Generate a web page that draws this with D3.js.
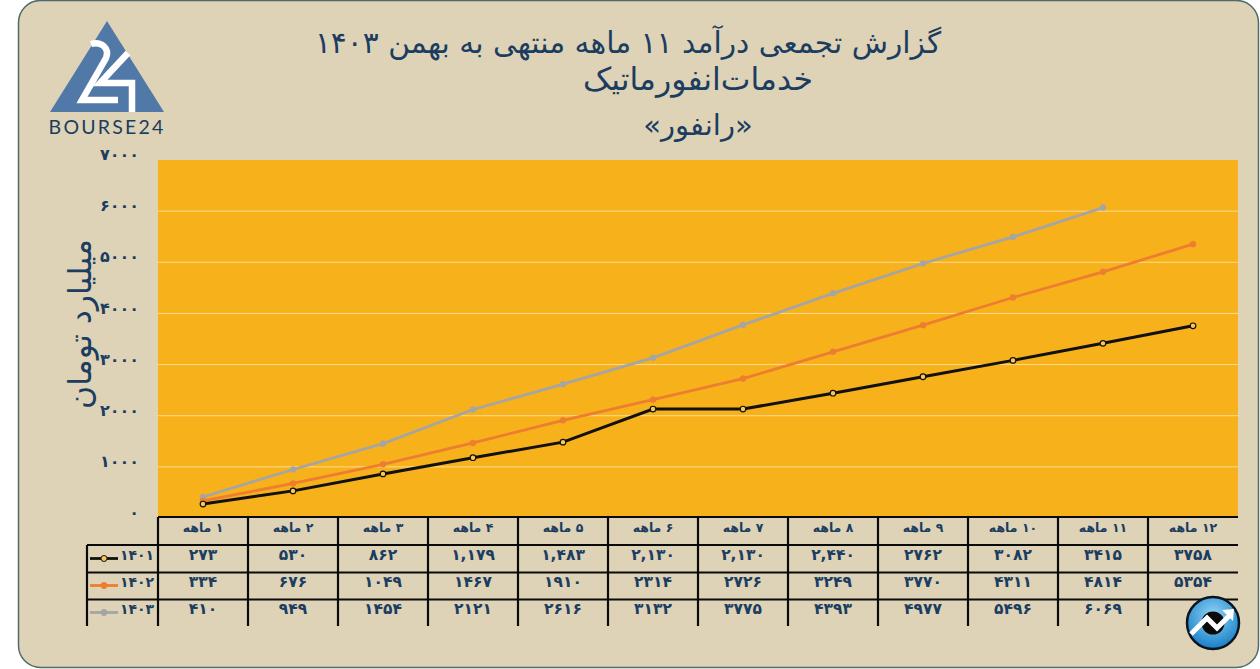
<!DOCTYPE html>
<html lang="fa">
  <head>
    <meta charset="utf-8">
    <title>رانفور</title>
    <style>
      body { margin: 0; background: #fff; }
      svg { display: block; }
      text { font-family: "DejaVu Sans", sans-serif; fill: #1b3d5f; }
      .cell { font-weight: bold; font-size: 15.5px; text-anchor: middle; dominant-baseline: middle; }
      .year { font-weight: bold; font-size: 14px; text-anchor: middle; dominant-baseline: middle; }
      .head { font-weight: bold; font-size: 12.5px; text-anchor: middle; dominant-baseline: middle; direction: rtl; }
      .title { text-anchor: middle; direction: rtl; }
    </style>
  </head>
  <body>
    <svg id="container" width="1260" height="669"></svg>
    <script src="https://d3js.org/d3.v7.min.js"></script>
    <script>
      const months = ["۱ ماهه","۲ ماهه","۳ ماهه","۴ ماهه","۵ ماهه","۶ ماهه","۷ ماهه","۸ ماهه","۹ ماهه","۱۰ ماهه","۱۱ ماهه","۱۲ ماهه"]
      const years = ["۱۴۰۱","۱۴۰۲","۱۴۰۳"]
      const values1401 = [273,530,862,1179,1483,2130,2130,2440,2762,3082,3415,3758]
      const values1402 = [334,676,1049,1467,1910,2314,2726,3249,3770,4311,4814,5354]
      const values1403 = [410,949,1454,2121,2616,3132,3775,4393,4977,5496,6069]
      const labels1401 = ["۲۷۳","۵۳۰","۸۶۲","۱,۱۷۹","۱,۴۸۳","۲,۱۳۰","۲,۱۳۰","۲,۴۴۰","۲۷۶۲","۳۰۸۲","۳۴۱۵","۳۷۵۸"]
      const yTicks = [0,1000,2000,3000,4000,5000,6000,7000]
      const titleLines = ["گزارش تجمعی درآمد ۱۱ ماهه منتهی به بهمن ۱۴۰۳","خدمات‌انفورماتیک","«رانفور»"]
      const colors = ["#111111","#ed7d31","#a5a5a5"]

      const fa = n => String(n).replace(/\d/g, d => "۰۱۲۳۴۵۶۷۸۹"[d])

      const svg = d3.select("#container")

      // card background
      svg.append("rect").attr("x",18.5).attr("y",0.5).attr("width",1240).attr("height",667).attr("rx",22)
        .attr("fill","#ded2b7").attr("stroke","#4f6b6b").attr("stroke-width",1.5)

      const x = d3.scaleBand().domain(months).range([158,1238])
      const y = d3.scaleLinear().domain([0,7000]).range([518,160])

      // plot area
      svg.append("rect").attr("x",158).attr("y",y(7000)).attr("width",1080).attr("height",y(0)-y(7000)).attr("fill","#f7b11a")

      svg.append("g").selectAll("line").data(yTicks.slice(1,7)).enter().append("line")
        .attr("x1",158).attr("x2",1238).attr("y1",d => y(d)).attr("y2",d => y(d))
        .attr("stroke","#fbdc92").attr("stroke-width",1)

      // y axis
      const yAxis = d3.axisLeft(y).tickValues(yTicks).tickFormat(fa).tickSize(0).tickPadding(19)
      const yG = svg.append("g").attr("transform","translate(158,0)").call(yAxis)
      yG.select(".domain").remove()
      yG.selectAll("text").attr("dy","-0.02em").style("font-size","16px").style("font-weight","bold")
        .style("letter-spacing","1.2px").style("font-family",'"DejaVu Sans", sans-serif').style("fill","#1b3d5f")

      svg.append("text").attr("transform","translate(91,324) rotate(-90)").attr("text-anchor","middle")
        .style("font-size","31.5px").style("direction","rtl").text("میلیارد تومان")

      // lines
      const line = d3.line().x((d,i) => x(months[i]) + x.bandwidth()/2).y(d => y(d))
      const series = [values1401, values1402, values1403]

      ;[2,1,0].forEach(k => {
        svg.append("path").datum(series[k]).attr("d",line).attr("fill","none")
          .attr("stroke",colors[k]).attr("stroke-width",k == 0 ? 3 : 2.8)
        svg.append("g").selectAll("circle").data(series[k]).enter().append("circle")
          .attr("cx",(d,i) => x(months[i]) + x.bandwidth()/2).attr("cy",d => y(d)).attr("r",k == 0 ? 2.8 : 3)
          .attr("fill",k == 0 ? "#f7c95a" : colors[k]).attr("stroke",k == 0 ? "#111" : colors[k]).attr("stroke-width",k == 0 ? 1.2 : 0.5)
      })

      // data table
      const rowLines = [517,545,572.5,599.5]
      const grid = svg.append("g").attr("stroke","#0a0a0a").attr("stroke-width",2.2)
      rowLines.forEach((ry,i) => {
        grid.append("line").attr("x1",i == 0 ? 158 : 87).attr("x2",1238).attr("y1",ry).attr("y2",ry)
      })
      months.forEach(m => {
        grid.append("line").attr("x1",x(m)).attr("x2",x(m)).attr("y1",517).attr("y2",626)
      })
      grid.append("line").attr("x1",87).attr("x2",87).attr("y1",545).attr("y2",626)

      svg.append("g").selectAll("text").data(months).enter().append("text").attr("class","head")
        .attr("x",d => x(d) + x.bandwidth()/2).attr("y",528.5).text(d => d)

      const rowY = [555.5,582.5,609.5]
      const rowLabels = [labels1401, values1402.map(fa), values1403.map(fa)]
      rowLabels.forEach((labels,k) => {
        svg.append("g").selectAll("text").data(labels).enter().append("text").attr("class","cell")
          .attr("x",(d,i) => x(months[i]) + x.bandwidth()/2).attr("y",rowY[k]).text(d => d)

        // legend keys in the first column
        svg.append("line").attr("x1",90).attr("x2",118).attr("y1",rowY[k]+3).attr("y2",rowY[k]+3)
          .attr("stroke",colors[k]).attr("stroke-width",2.8)
        svg.append("circle").attr("cx",104).attr("cy",rowY[k]+3).attr("r",3)
          .attr("fill",k == 0 ? "#f7c95a" : colors[k]).attr("stroke",k == 0 ? "#111" : colors[k])
        svg.append("text").attr("class","year").attr("x",137).attr("y",rowY[k]).text(years[k])
      })

      // title
      const titleSizes = [29.7,31.5,29]
      titleLines.forEach((t,i) => {
        svg.append("text").attr("class","title").style("font-size",titleSizes[i] + "px")
          .attr("x",i == 0 ? 628 : 698).attr("y",[53,90,135][i]).text(t)
      })

      // bourse24 logo
      const logo = svg.append("g")
      logo.append("path").attr("d","M107,21 L164,112 L50,112 Z").attr("fill","#5079a8")
      logo.append("path").attr("d","M91,44 C101,41 110,48 106,58 L82,100 L118,100").attr("fill","none").attr("stroke","#fff").attr("stroke-width",6.5)
      logo.append("path").attr("d","M128,53 L100,83 L132,83 L132,112").attr("fill","none").attr("stroke","#fff").attr("stroke-width",6.5)
      logo.append("text").attr("x",107).attr("y",134).attr("text-anchor","middle")
        .style("font-family","Lato, sans-serif").style("font-size","19.5px").style("letter-spacing","2.2px").text("BOURSE24")

      // round badge, bottom right
      const grad = svg.append("defs").append("radialGradient").attr("id","badge").attr("cy","35%").attr("r","70%")
      grad.append("stop").attr("offset","0%").attr("stop-color","#8fd4f5")
      grad.append("stop").attr("offset","100%").attr("stop-color","#0f78c4")
      const badge = svg.append("g")
      badge.append("circle").attr("cx",1213).attr("cy",623).attr("r",26).attr("fill","url(#badge)").attr("stroke","#0a1420").attr("stroke-width",2.5)
      badge.append("circle").attr("cx",1213).attr("cy",623).attr("r",11.5).attr("fill","#0a0a0a")
      badge.append("path").attr("d","M1191,634 L1207,618 L1217,628 L1229,616").attr("fill","none").attr("stroke","#fff").attr("stroke-width",5)
      badge.append("path").attr("d","M1222,610 L1234,609 L1233,621 Z").attr("fill","#fff")
    </script>
  </body>
</html>
